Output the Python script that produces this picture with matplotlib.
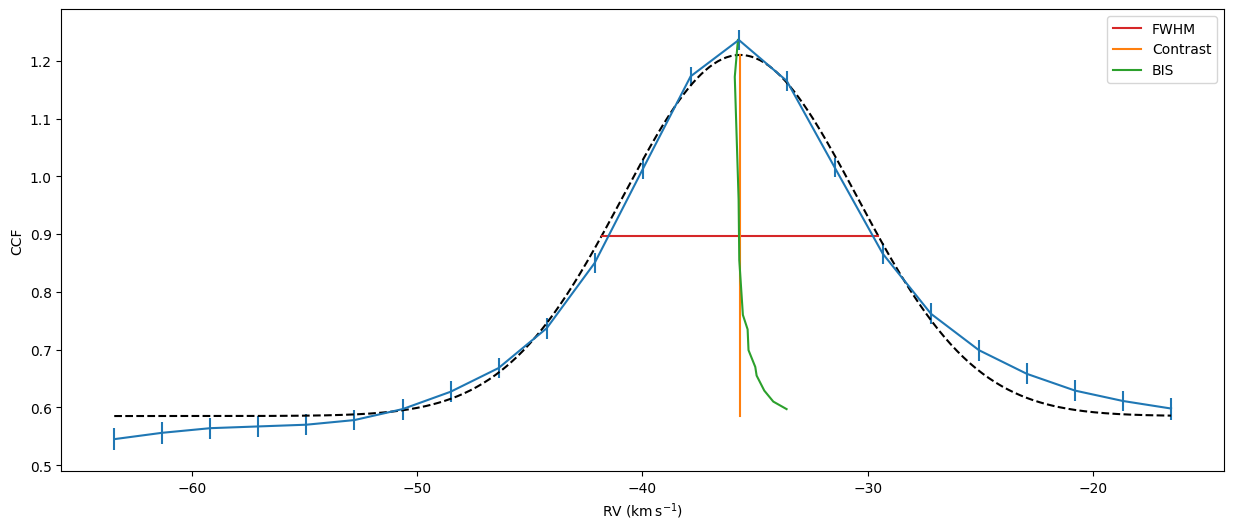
import matplotlib
matplotlib.use('Agg')
import matplotlib.pyplot as plt
import numpy as np

# measured CCF (RV grid in km/s)
rv = [-63.45, -61.32, -59.18, -57.05, -54.92, -52.79, -50.65, -48.52,
      -46.39, -44.25, -42.12, -39.99, -37.86, -35.72, -33.59, -31.46,
      -29.33, -27.19, -25.06, -22.93, -20.79, -18.66, -16.53]
ccf = [0.545, 0.556, 0.564, 0.567, 0.570, 0.578, 0.597, 0.627,
       0.668, 0.737, 0.850, 1.012, 1.173, 1.236, 1.165, 1.015,
       0.866, 0.762, 0.699, 0.658, 0.629, 0.611, 0.598]
ccf_err = [0.019, 0.019, 0.018, 0.018, 0.018, 0.018, 0.018, 0.018,
           0.018, 0.018, 0.018, 0.017, 0.017, 0.017, 0.017, 0.017,
           0.018, 0.018, 0.018, 0.018, 0.018, 0.018, 0.019]

# gaussian fit parameters
fit_offset = 0.585
fit_amp = 0.625
fit_center = -35.67
fit_fwhm = 12.26

# bisector
bis_rv = [-35.76, -35.90, -35.73, -35.70, -35.54, -35.33, -35.29,
          -34.99, -34.93, -34.59, -34.19, -33.60]
bis_ccf = [1.236, 1.172, 0.960, 0.855, 0.760, 0.735, 0.699,
           0.670, 0.655, 0.629, 0.610, 0.597]

sigma = fit_fwhm / (2 * np.sqrt(2 * np.log(2)))
xx = np.linspace(rv[0], rv[-1], 500)
model = fit_offset + fit_amp * np.exp(-(xx - fit_center) ** 2 / (2 * sigma ** 2))

fig, ax = plt.subplots(figsize=(15, 6), dpi=100)
ax.errorbar(rv, ccf, yerr=ccf_err, color='C0')
ax.plot(xx, model, 'k--')

half = fit_offset + fit_amp / 2
ax.plot([fit_center - fit_fwhm / 2, fit_center + fit_fwhm / 2], [half, half],
        color='tab:red', label='FWHM')
ax.plot([fit_center, fit_center], [fit_offset, fit_offset + fit_amp],
        color='tab:orange', label='Contrast')
ax.plot(bis_rv, bis_ccf, color='tab:green', label='BIS')

ax.set_xlabel(r'RV ($\mathrm{km\,s^{-1}}$)')
ax.set_ylabel('CCF')
ax.legend(loc='upper right')

plt.savefig('out.png', dpi=100, bbox_inches='tight')
plt.close()
